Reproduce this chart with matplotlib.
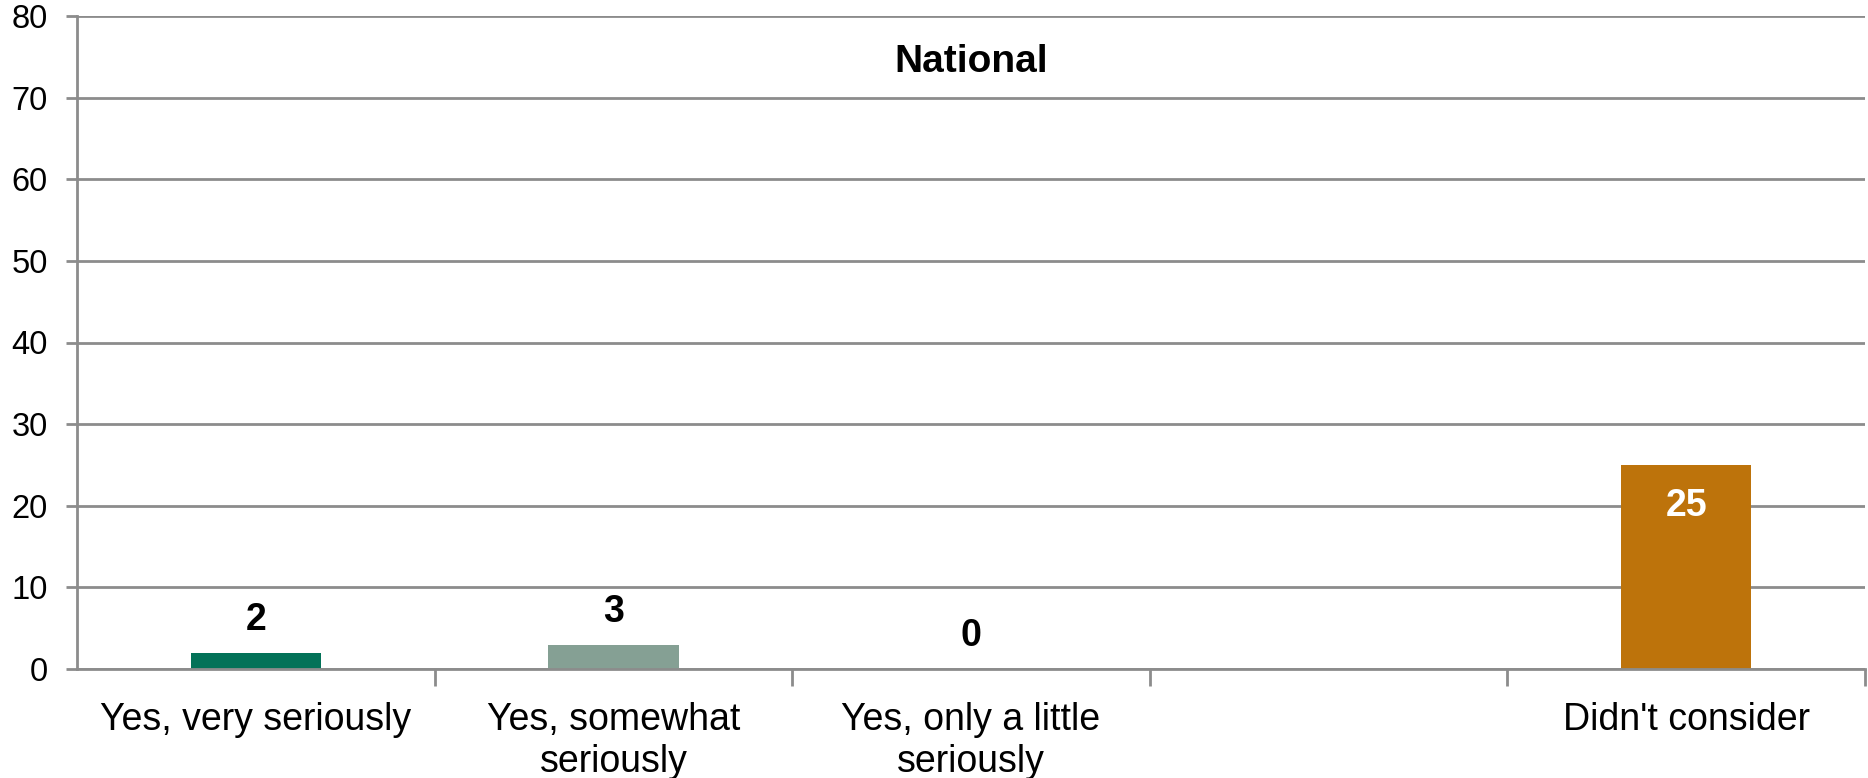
import numpy as np
import matplotlib
matplotlib.use("Agg")
import matplotlib.pyplot as plt

TITLE = "National"
categories = ["Yes, very seriously", "Yes, somewhat\nseriously",
              "Yes, only a little\nseriously", "", "Didn't consider"]
values = [2, 3, 0, np.nan, 25]
bar_colors = ["#037258", "#85a094", "#85a094", "#85a094", "#bd730b"]
y_ticks = [0, 10, 20, 30, 40, 50, 60, 70, 80]

GRID = "#8c8c8c"
FS = 27

plt.rcParams["font.family"] = ["Liberation Sans", "DejaVu Sans"]

fig = plt.figure(figsize=(18.68, 7.78), dpi=100)
ax = fig.add_axes([77 / 1868, 1 - 669 / 778, 1788 / 1868, 653 / 778])

x = np.arange(len(categories))
bars = ax.bar(x, values, width=0.365, color=bar_colors, zorder=2)

ax.set_xlim(-0.5, len(categories) - 0.5)
ax.set_ylim(0, 80)
ax.set_yticks(y_ticks)
ax.tick_params(axis="y", labelsize=23.5, length=8, width=2, color=GRID, pad=13)
ax.yaxis.grid(True, color=GRID, linewidth=2, zorder=0)
ax.set_axisbelow(True)

# category names sit between the tick marks, which mark the slot edges
ax.set_xticks(x + 0.5)
ax.set_xticklabels([])
ax.set_xticks(x, categories, minor=True)
ax.tick_params(axis="x", which="major", length=12, width=2, color=GRID)
ax.tick_params(axis="x", which="minor", length=0, labelsize=FS, pad=24)
for lbl in ax.get_xticklabels(minor=True):
    lbl.set_linespacing(1.2)

for side in ["top", "right"]:
    ax.spines[side].set_visible(False)
for side in ["left", "bottom"]:
    ax.spines[side].set_color(GRID)
    ax.spines[side].set_linewidth(2)
    ax.spines[side].set_zorder(3)

# value labels: above small bars, inside the tall one
for xi, v in zip(x, values):
    if np.isnan(v):
        continue
    if v > 10:
        ax.text(xi, v - 5, f"{v:g}", ha="center", va="center", fontsize=FS,
                fontweight="bold", color="white", zorder=4)
    else:
        ax.text(xi, v + 4, f"{v:g}", ha="center", va="center", fontsize=FS,
                fontweight="bold", color="black", zorder=4)

ax.text(0.5, 0.93, TITLE, transform=ax.transAxes, ha="center", va="center",
        fontsize=28, fontweight="bold")

fig.savefig("out.png", dpi=100)
